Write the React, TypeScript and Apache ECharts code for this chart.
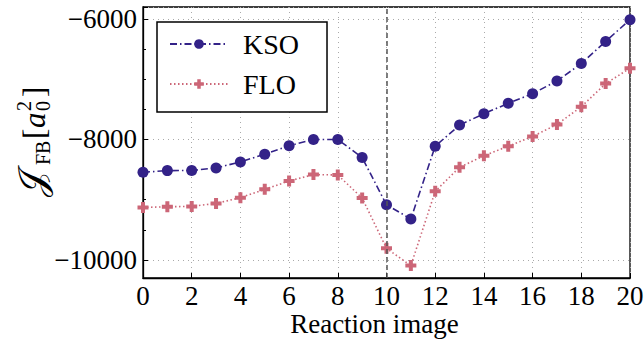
import React, { useEffect, useRef } from "react";
import * as echarts from "echarts";

const reactionImages = [0, 1, 2, 3, 4, 5, 6, 7, 8, 9, 10, 11, 12, 13, 14, 15, 16, 17, 18, 19, 20];
const ksoValues = [-8545, -8517, -8515, -8472, -8372, -8245, -8105, -8000, -8000, -8300, -9085, -9320, -8111, -7761, -7572, -7400, -7239, -7028, -6739, -6372, -6010];
const floValues = [-9128, -9117, -9111, -9061, -8967, -8828, -8689, -8583, -8589, -8972, -9808, -10094, -8861, -8461, -8272, -8111, -7950, -7750, -7456, -7072, -6817];
const seriesNames = ["KSO", "FLO"];
const xTickLabels = ["0", "2", "4", "6", "8", "10", "12", "14", "16", "18", "20"];
const yTickLabels = ["−10000", "−8000", "−6000"];
const transitionImage = 10;

const SERIF = "Liberation Serif";
const KSO_COLOR = "#332288";
const FLO_COLOR = "#cc6677";
const PLUS = "path://M-2,-5.5H2V-2H5.5V2H2V5.5H-2V2H-5.5V-2H-2Z";

export default function App() {
  const ref = useRef<HTMLDivElement>(null);
  useEffect(() => {
    if (!ref.current) return;
    const chart = echarts.init(ref.current, null, { renderer: "svg" });
    const ksoData = reactionImages.map((x, i) => [x, ksoValues[i]]);
    const floData = reactionImages.map((x, i) => [x, floValues[i]]);
    const piece = (text: string, x: number, y: number, size: number, italic = false) => ({
      type: "text",
      x,
      y,
      style: {
        text,
        fontFamily: SERIF,
        fontSize: size,
        fontStyle: italic ? "italic" : "normal",
        fill: "#000",
        verticalAlign: "middle",
        align: "left",
      },
    });
    chart.setOption({
      animation: false,
      backgroundColor: "#fff",
      grid: {
        left: 143,
        right: 14,
        top: 7,
        bottom: 63,
        outerBoundsMode: "none",
        containLabel: false,
        show: true,
        borderColor: "#000",
        borderWidth: 1.3,
        backgroundColor: "transparent",
      },
      xAxis: {
        type: "value",
        min: 0,
        max: 20,
        interval: 2,
        name: "Reaction image",
        nameLocation: "middle",
        nameGap: 32,
        nameMoveOverlap: false,
        nameTextStyle: {
          fontFamily: SERIF,
          fontSize: 27,
          lineHeight: 27,
          color: "#000",
          padding: [0, 24, 0, 0],
        },
        axisLine: { show: true, lineStyle: { color: "#000", width: 1.3 } },
        axisTick: { show: true, inside: true, length: 5, lineStyle: { color: "#000" } },
        axisLabel: {
          fontFamily: SERIF,
          fontSize: 27,
          lineHeight: 24,
          color: "#000",
          margin: 6,
          formatter: (v: number) => (xTickLabels.includes(String(v)) ? String(v) : ""),
        },
        splitLine: { show: true, lineStyle: { color: "#aaa", type: [1, 4], width: 1 } },
      },
      yAxis: {
        type: "value",
        min: -10300,
        max: -5800,
        splitNumber: 2,
        axisLine: { show: true, lineStyle: { color: "#000", width: 1.3 } },
        axisTick: { show: true, inside: true, length: 5, lineStyle: { color: "#000" } },
        minorTick: { show: true, splitNumber: 4, length: 3, lineStyle: { color: "#000" } },
        axisLabel: {
          fontFamily: SERIF,
          fontSize: 27,
          color: "#000",
          margin: 6,
          showMinLabel: false,
          showMaxLabel: false,
          formatter: (v: number) => {
            const s = "−" + String(Math.abs(v));
            return yTickLabels.includes(s) ? s : "";
          },
        },
        splitLine: { show: true, lineStyle: { color: "#aaa", type: [1, 4], width: 1 } },
      },
      legend: {
        orient: "vertical",
        left: 157,
        top: 22,
        padding: [8, 28, 14, 12],
        itemGap: 12,
        itemWidth: 58,
        itemHeight: 12,
        borderColor: "#000",
        borderWidth: 1.5,
        borderRadius: 0,
        backgroundColor: "#fff",
        textStyle: { fontFamily: SERIF, fontSize: 28, color: "#000", padding: [0, 0, 0, 10] },
        data: seriesNames,
      },
      graphic: [
        {
          type: "group",
          x: 44,
          y: 197,
          rotation: Math.PI / 2,
          children: [
            piece("𝒥", 0, -12, 38, false),
            piece("FB", 32, -1, 20),
            piece("[", 58, -10, 31),
            piece("a", 69, -10, 31, true),
            piece("0", 86, -1, 20),
            piece("2", 86, -20, 20),
            piece("]", 100, -10, 31),
          ],
        },
      ],
      series: [
        {
          name: seriesNames[0],
          type: "line",
          data: ksoData,
          symbol: "circle",
          symbolSize: 11,
          itemStyle: { color: KSO_COLOR },
          lineStyle: { color: KSO_COLOR, width: 1.6, type: [7, 3, 1.5, 3] },
          z: 3,
          markLine: {
            silent: true,
            symbol: ["none", "none"],
            label: { show: false },
            lineStyle: { color: "#555", type: [5, 3], width: 1.5 },
            data: [{ xAxis: transitionImage }],
          },
        },
        {
          name: seriesNames[1],
          type: "line",
          data: floData,
          symbol: PLUS,
          symbolSize: 11,
          itemStyle: { color: FLO_COLOR },
          lineStyle: { color: FLO_COLOR, width: 1.6, type: [1.5, 2.5] },
          z: 2,
        },
      ],
    });
    return () => chart.dispose();
  }, []);
  return <div ref={ref} style={{ width: 644, height: 341, position: "absolute", left: 0, top: 0 }} />;
}
